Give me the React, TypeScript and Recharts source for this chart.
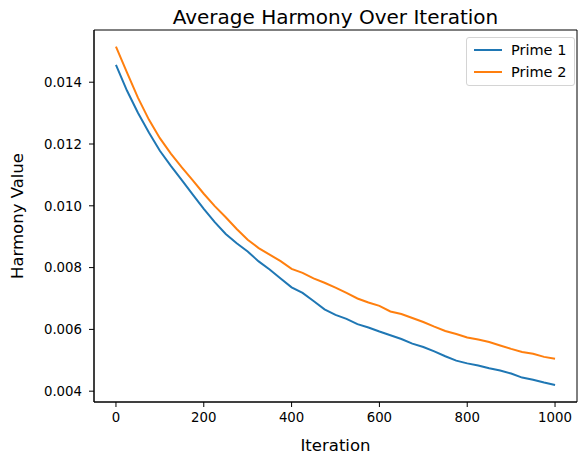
import { LineChart, Line, XAxis, YAxis, ReferenceArea, Label } from 'recharts';

const FONT = '"DejaVu Sans", sans-serif';

const iterations = [
  0, 25, 50, 75, 100, 125, 150, 175, 200, 225, 250, 275, 300, 325, 350, 375, 400, 425, 450, 475, 500,
  525, 550, 575, 600, 625, 650, 675, 700, 725, 750, 775, 800, 825, 850, 875, 900, 925, 950, 975, 1000,
];

const prime1 = [
  0.01456, 0.01373, 0.01301, 0.01237, 0.01178, 0.01129, 0.01083, 0.01036, 0.0099, 0.00947, 0.00909,
  0.00879, 0.00852, 0.0082, 0.00794, 0.00765, 0.00736, 0.00718, 0.00692, 0.00665, 0.00647, 0.00634,
  0.00617, 0.00606, 0.00593, 0.00581, 0.00569, 0.00554, 0.00543, 0.00529, 0.00513, 0.00499, 0.0049,
  0.00483, 0.00474, 0.00467, 0.00457, 0.00444, 0.00437, 0.00428, 0.0042,
];

const prime2 = [
  0.01515, 0.01432, 0.0135, 0.01279, 0.01219, 0.01169, 0.01124, 0.01082, 0.01039, 0.00999, 0.00963,
  0.00925, 0.0089, 0.00863, 0.00842, 0.00821, 0.00796, 0.00783, 0.00765, 0.00751, 0.00735, 0.00718,
  0.007, 0.00687, 0.00676, 0.00658, 0.0065, 0.00637, 0.00624, 0.00609, 0.00595, 0.00585, 0.00574,
  0.00567, 0.00559, 0.00548, 0.00537, 0.00527, 0.00521, 0.00511, 0.00505,
];

const xTicks = [0, 200, 400, 600, 800, 1000];
const yTicks = [0.004, 0.006, 0.008, 0.01, 0.012, 0.014];

const series = [
  { key: 'prime1', name: 'Prime 1', color: '#1f77b4' },
  { key: 'prime2', name: 'Prime 2', color: '#ff7f0e' },
];

const data = iterations.map((it, i) => ({ iteration: it, prime1: prime1[i], prime2: prime2[i] }));

const X_DOMAIN: [number, number] = [-50, 1050];
const Y_DOMAIN: [number, number] = [0.00365, 0.01569];

const tickStyle = { fill: '#000', fontSize: 13.3, fontFamily: FONT };

function LegendBox() {
  return (
    <div
      style={{
        position: 'absolute',
        left: 466,
        top: 37,
        border: '1px solid #d4d4d4',
        borderRadius: 3,
        background: '#fff',
        padding: '1px 8px 2px 7px',
        fontFamily: FONT,
        fontSize: 14.5,
        lineHeight: '17px',
        color: '#000',
      }}
    >
      {series.map((s) => (
        <div key={s.key} style={{ display: 'flex', alignItems: 'center', height: 22 }}>
          <div style={{ width: 28, height: 2, background: s.color, marginRight: 9 }} />
          <span style={{ whiteSpace: 'nowrap' }}>{s.name}</span>
        </div>
      ))}
    </div>
  );
}

export default function App() {
  return (
    <div style={{ position: 'absolute', left: 0, top: 0, width: 578, height: 456, fontFamily: FONT }}>
      <div
        style={{
          position: 'absolute',
          left: 94,
          top: 7,
          width: 483,
          textAlign: 'center',
          fontSize: 20,
          lineHeight: '20px',
          color: '#000',
        }}
      >
        Average Harmony Over Iteration
      </div>
      <LineChart width={578} height={456} data={data} margin={{ top: 30, right: 1, bottom: 0, left: 0 }}>
        <XAxis
          dataKey="iteration"
          type="number"
          domain={X_DOMAIN}
          ticks={xTicks}
          allowDataOverflow
          height={54}
          tick={tickStyle}
          tickSize={5}
          tickMargin={6}
          stroke="#000"
        >
          <Label
            content={({ viewBox }: any) => (
              <text
                x={viewBox.x + viewBox.width / 2}
                y={viewBox.y + 49}
                textAnchor="middle"
                fontSize={16.5}
                fontFamily={FONT}
                fill="#000"
              >
                Iteration
              </text>
            )}
          />
        </XAxis>
        <YAxis
          type="number"
          domain={Y_DOMAIN}
          ticks={yTicks}
          allowDataOverflow
          width={94}
          tick={tickStyle}
          tickSize={5}
          tickMargin={7}
          tickFormatter={(v: number) => v.toFixed(3)}
          stroke="#000"
        >
          <Label
            content={({ viewBox }: any) => {
              const cx = 23;
              const cy = viewBox.y + viewBox.height / 2;
              return (
                <text
                  x={cx}
                  y={cy}
                  transform={`rotate(-90, ${cx}, ${cy})`}
                  textAnchor="middle"
                  fontSize={16.5}
                  fontFamily={FONT}
                  fill="#000"
                >
                  Harmony Value
                </text>
              );
            }}
          />
        </YAxis>
        <ReferenceArea
          x1={X_DOMAIN[0]}
          x2={X_DOMAIN[1]}
          y1={Y_DOMAIN[0]}
          y2={Y_DOMAIN[1]}
          fill="none"
          stroke="#000"
          strokeWidth={1}
          ifOverflow="visible"
        />
        {series.map((s) => (
          <Line
            key={s.key}
            dataKey={s.key}
            name={s.name}
            type="linear"
            stroke={s.color}
            strokeWidth={2}
            dot={false}
            activeDot={false}
            isAnimationActive={false}
          />
        ))}
      </LineChart>
      <LegendBox />
    </div>
  );
}
